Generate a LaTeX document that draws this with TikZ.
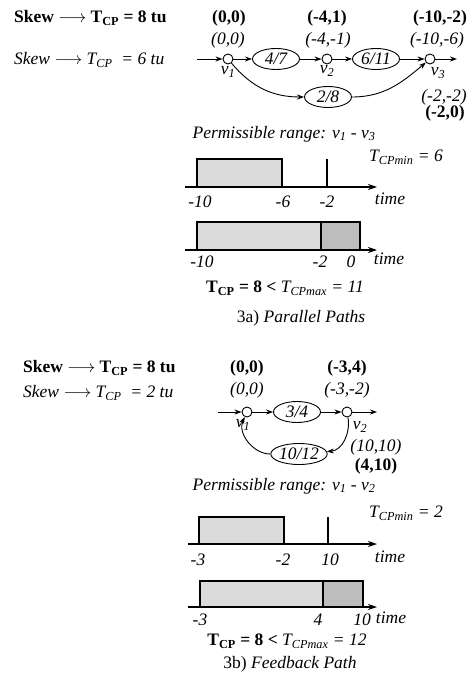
\documentclass[tikz,border=0pt]{standalone}
\usepackage{xcolor}
\usepackage{fontspec}
\setmainfont{Liberation Serif}
\usepackage{tikz}
\usetikzlibrary{shapes.geometric, arrows.meta, positioning}
\definecolor{rangefill}{gray}{0.86}
\definecolor{rangedark}{gray}{0.74}
\newcommand{\vx}[1]{\textit{v\textsubscript{#1}}}
\newcommand{\tcp}{T\textsubscript{CP}}
\newcommand{\skewto}{$\longrightarrow$}
\tikzset{
  vertex/.style={circle, draw, line width=0.9pt, fill=white, inner sep=0pt, minimum size=10pt},
  delay/.style={ellipse, draw, line width=0.9pt, inner sep=0pt, minimum width=47pt, minimum height=21pt, font=\itshape},
  lbl/.style={font=\itshape, inner sep=1pt},
  blbl/.style={font=\bfseries, inner sep=1pt},
  arrow/.style={-{Stealth[length=7pt, width=5pt]}, line width=0.9pt},
  axis/.style={-{Stealth[length=9pt, width=6pt]}, line width=1.2pt},
  rangebox/.style={draw, line width=1.3pt, fill=rangefill},
  rangeend/.style={draw, line width=1.3pt, fill=rangedark},
  tickline/.style={line width=1.2pt},
}

\begin{document}
\begin{tikzpicture}[x=1pt, y=-1pt]
  \fontsize{17.5}{20}\selectfont
  \useasboundingbox (0,0) rectangle (468,684);
  % 3a) parallel paths
  \node[blbl, anchor=west] (askewb) at (13,18) {Skew \skewto\ \tcp\ = 8 tu};
  \node[lbl, anchor=west] (askewi) at (13,60) {Skew \skewto\ T\textsubscript{CP} \ = 6 tu};
  \node[vertex] (a1) at (228,59) {};
  \node[delay] (a47) at (276,59) {4/7};
  \node[vertex] (a2) at (327,59) {};
  \node[delay] (a611) at (376,59) {6/11};
  \node[vertex] (a3) at (430,59) {};
  \node[delay] (a28) at (328,97) {2/8};
  \coordinate (ain) at (197,59);
  \coordinate (aout) at (457,59);
  \node[lbl, below=1pt of a1] (a1l) {\vx{1}};
  \node[lbl, below=0pt of a2] (a2l) {\vx{2}};
  \node[lbl] (a3l) at (438,73) {\vx{3}};
  \node[blbl] (a1b) at (229,18) {(0,0)};
  \node[lbl] (a1i) at (228,40) {(0,0)};
  \node[blbl] (a2b) at (327,18) {(-4,1)};
  \node[lbl] (a2i) at (328,40) {(-4,-1)};
  \node[blbl] (a3b) at (440,18) {(-10,-2)};
  \node[lbl] (a3i) at (437,40) {(-10,-6)};
  \node[lbl] (a28i) at (444,97) {(-2,-2)};
  \node[blbl] (a28b) at (445,113) {(-2,0)};
  \draw[arrow] (ain) -- (a1);
  \draw[arrow] (a1) -- (a47);
  \draw[arrow] (a47) -- (a2);
  \draw[arrow] (a2) -- (a611);
  \draw[arrow] (a611) -- (a3);
  \draw[arrow] (a3) -- (aout);
  \draw[arrow] (a1) to[out=-50, in=180] (a28);
  \draw[arrow] (a28) to[out=0, in=-140] (a3);
  \node[lbl] (aperm) at (284,134) {Permissible range: \vx{1} - \vx{3}};
  % first time line
  \draw[rangebox] (197,187) rectangle (282,159);
  \draw[tickline] (327,159) -- (327,187);
  \draw[axis] (185,187) -- (377,187);
  \node[lbl] (amin) at (406,157) {T\textsubscript{CPmin} = 6};
  \node[lbl] at (200,202) {-10};
  \node[lbl] at (283,202) {-6};
  \node[lbl] at (327,202) {-2};
  \node[lbl] at (390,199) {time};
  % second time line
  \draw[rangebox] (197,250) rectangle (321,222);
  \draw[rangeend] (321,250) rectangle (360,222);
  \draw[axis] (185,250) -- (377,250);
  \node[lbl] at (202,262) {-10};
  \node[lbl] at (320,262) {-2};
  \node[lbl] at (351,262) {0};
  \node[lbl] at (389,259) {time};
  \node (amax) at (285,288) {\textbf{\tcp\ = 8 <} \textit{T\textsubscript{CPmax} = 11}};
  \node (acap) at (301,318) {3a) \textit{Parallel Paths}};
  % 3b) feedback path
  \node[blbl, anchor=west] (bskewb) at (22,368) {Skew \skewto\ \tcp\ = 8 tu};
  \node[lbl, anchor=west] (bskewi) at (22,393) {Skew \skewto\ T\textsubscript{CP} \ = 2 tu};
  \node[vertex] (b1) at (247,412) {};
  \node[delay] (b34) at (297,412) {3/4};
  \node[vertex] (b2) at (347,412) {};
  \node[delay] (b1012) at (299,454) {10/12};
  \coordinate (bin) at (218,412);
  \coordinate (bout) at (377,412);
  \node[lbl] (b1l) at (243,425) {\vx{1}};
  \node[lbl] (b2l) at (360,427) {\vx{2}};
  \node[blbl] (b1b) at (247,368) {(0,0)};
  \node[lbl] (b1i) at (247,390) {(0,0)};
  \node[blbl] (b2b) at (347,368) {(-3,4)};
  \node[lbl] (b2i) at (347,390) {(-3,-2)};
  \node[lbl] (b1012i) at (376,447) {(10,10)};
  \node[blbl] (b1012b) at (376,466) {(4,10)};
  \draw[arrow] (bin) -- (b1);
  \draw[arrow] (b1) -- (b34);
  \draw[arrow] (b34) -- (b2);
  \draw[arrow] (b2) -- (bout);
  \draw[arrow] (b2) to[out=-80, in=5] (b1012);
  \draw[arrow] (b1012) to[out=180, in=-115] (b1);
  \node[lbl] (bperm) at (284,486) {Permissible range: \vx{1} - \vx{2}};
  % first time line
  \draw[rangebox] (199,544) rectangle (284,517);
  \draw[tickline] (328,517) -- (328,544);
  \draw[axis] (188,544) -- (377,544);
  \node[lbl] (bmin) at (406,513) {T\textsubscript{CPmin} = 2};
  \node[lbl] at (198,560) {-3};
  \node[lbl] at (283,560) {-2};
  \node[lbl] at (330,560) {10};
  \node[lbl] at (390,557) {time};
  % second time line
  \draw[rangebox] (200,607) rectangle (323,581);
  \draw[rangeend] (323,607) rectangle (363,581);
  \draw[axis] (188,607) -- (377,607);
  \node[lbl] at (200,620) {-3};
  \node[lbl] at (318,620) {4};
  \node[lbl] at (362,620) {10};
  \node[lbl] at (391,618) {time};
  \node (bmax) at (287,641) {\textbf{\tcp\ = 8 <} \textit{T\textsubscript{CPmax} = 12}};
  \node (bcap) at (290,664) {3b) \textit{Feedback Path}};
\end{tikzpicture}
\end{document}
